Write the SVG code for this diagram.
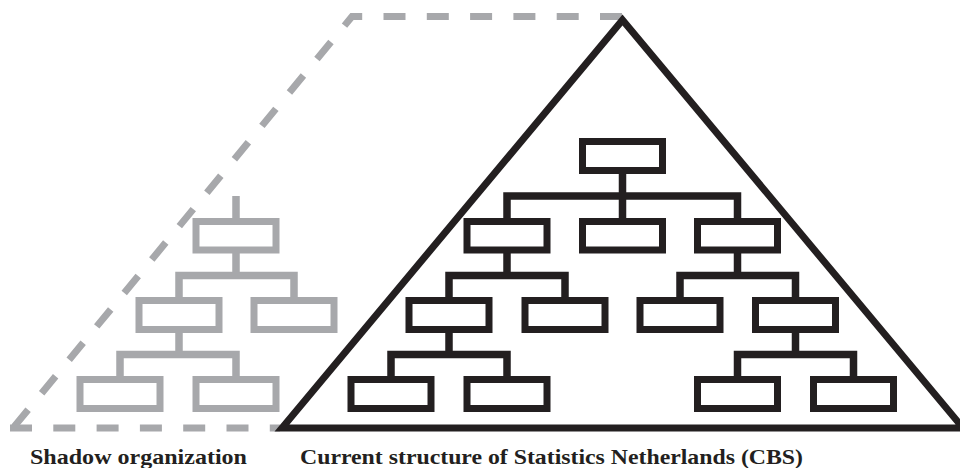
<svg xmlns="http://www.w3.org/2000/svg" width="960" height="468" viewBox="0 0 960 468">
  <style>
    .box { fill: none; stroke-width: 7; stroke-linejoin: miter; }
    .black { stroke: #231f20; }
    .grey { stroke: #a7a8ab; }
    .link { fill: none; stroke-width: 7.5; stroke-linejoin: miter; stroke-linecap: butt; }
    .dash { fill: none; stroke: #a7a8ab; stroke-width: 7; stroke-dasharray: 22 21.3; stroke-linejoin: miter; }
    .label { font-family: "Liberation Serif", "DejaVu Serif", serif; font-weight: bold; font-size: 22px; fill: #231f20; }
  </style>
  <rect width="960" height="468" fill="#ffffff"/>

  <!-- dashed outline of the shadow organization -->
  <g id="shadow-outline">
    <path class="dash" d="M622,16.5 H352 L13,428"/>
    <path class="dash" d="M10,428 H280"/>
  </g>

  <!-- triangle of the current structure -->
  <g id="current-outline">
    <polygon points="622.5,20 282,428 963,428" fill="none" stroke="#231f20" stroke-width="7" stroke-linejoin="miter"/>
  </g>

  <!-- connectors -->
  <g id="connectors">
    <path class="link grey" d="M236,196 V221.5 M236,250 V275.5 M179,300.5 V275.5 H294 V300.5 M179,330 V354.5 M120,379.5 V354.5 H236 V379.5"/>
    <path class="link black" d="M622.5,171 V221.5 M507,221.5 V196 H737.5 V221.5
      M507,250 V275.5 M449,300.5 V275.5 H565 V300.5
      M737.5,250 V275.5 M680,300.5 V275.5 H795.5 V300.5
      M449,330 V354.5 M391,379.5 V354.5 H507 V379.5
      M795.5,330 V354.5 M737.5,379.5 V354.5 H853.5 V379.5"/>
  </g>

  <!-- shadow organization units -->
  <g id="s1"><rect class="box grey" x="196" y="221.5" width="80" height="28.5"/></g>
  <g id="s2"><rect class="box grey" x="139" y="300.5" width="80" height="29"/></g>
  <g id="s3"><rect class="box grey" x="254" y="300.5" width="80" height="29"/></g>
  <g id="s4"><rect class="box grey" x="80" y="379.5" width="80" height="29"/></g>
  <g id="s5"><rect class="box grey" x="196" y="379.5" width="80" height="29"/></g>

  <!-- current structure units -->
  <g id="c1"><rect class="box black" x="582.5" y="141.5" width="80" height="29"/></g>
  <g id="c2"><rect class="box black" x="467" y="221.5" width="80" height="28.5"/></g>
  <g id="c3"><rect class="box black" x="582.5" y="221.5" width="80" height="28.5"/></g>
  <g id="c4"><rect class="box black" x="697.5" y="221.5" width="80" height="28.5"/></g>
  <g id="c5"><rect class="box black" x="409" y="300.5" width="80" height="29"/></g>
  <g id="c6"><rect class="box black" x="525" y="300.5" width="80" height="29"/></g>
  <g id="c7"><rect class="box black" x="640" y="300.5" width="80" height="29"/></g>
  <g id="c8"><rect class="box black" x="755.5" y="300.5" width="80" height="29"/></g>
  <g id="c9"><rect class="box black" x="351" y="379.5" width="80" height="29"/></g>
  <g id="c10"><rect class="box black" x="467" y="379.5" width="80" height="29"/></g>
  <g id="c11"><rect class="box black" x="697.5" y="379.5" width="80" height="29"/></g>
  <g id="c12"><rect class="box black" x="813.5" y="379.5" width="80" height="29"/></g>

  <!-- captions -->
  <text class="label" x="30" y="463.5" textLength="217" lengthAdjust="spacingAndGlyphs">Shadow organization</text>
  <text class="label" x="300" y="463.5" textLength="503" lengthAdjust="spacingAndGlyphs">Current structure of Statistics Netherlands (CBS)</text>
</svg>
